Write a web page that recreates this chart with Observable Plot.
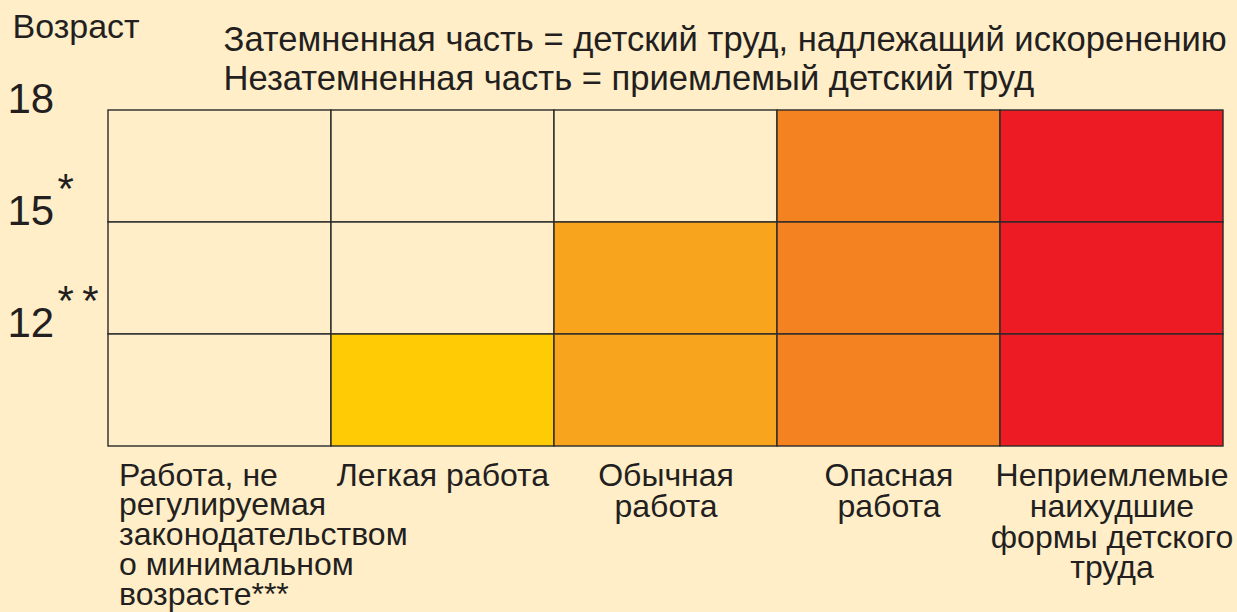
<!DOCTYPE html>
<html><head><meta charset="utf-8">
<script src="https://cdn.jsdelivr.net/npm/d3@7"></script>
<script src="https://cdn.jsdelivr.net/npm/@observablehq/plot@0.6"></script>
<style>
html,body{margin:0;padding:0;background:#FFEEC8;}
</style>
</head><body><div id="chart"></div>
<script>
// Work categories (columns)
const categories = [
  "Работа, не\nрегулируемая\nзаконодательством\nо минимальном\nвозрасте***",
  "Легкая работа",
  "Обычная\nработа",
  "Опасная\nработа",
  "Неприемлемые\nнаихудшие\nформы детского\nтруда"
];
// Age bands (rows), top to bottom
const rowTop = [18, 15, 12];
const rowBottom = [15, 12, 9];
// Age tick labels and their footnote marks
const ageTicks = [18, 15, 12];
const ageNotes = ["", "*", "**"];
// Shaded (child labour to be eliminated): per column, per row (top→bottom)
const shaded = [
  [false, false, false],
  [false, false, true],
  [false, true, true],
  [true, true, true],
  [true, true, true]
];
const columnColors = ["#FFEEC8", "#FFCB05", "#F8A51D", "#F58220", "#ED1C24"];
const unshadedColor = "#FFEEC8";
const legendText = "Затемненная часть = детский труд, надлежащий искоренению\nНезатемненная часть = приемлемый детский труд";
const yAxisTitle = "Возраст";

const cells = [];
categories.forEach((c, i) => {
  rowTop.forEach((t, j) => {
    cells.push({cat: c, y1: rowBottom[j], y2: t, fill: shaded[i][j] ? columnColors[i] : unshadedColor});
  });
});
const ticks = ageTicks.map((a, i) => ({age: a, note: ageNotes[i]}));

const font = "'Liberation Sans', Arial, Helvetica, sans-serif";
const ink = "#231F20";

const chart = Plot.plot({
  width: 1237,
  height: 612,
  marginLeft: 107,
  marginRight: 13,
  marginTop: 110,
  marginBottom: 166,
  style: {background: "#FFEEC8", fontFamily: font, color: ink, overflow: "visible"},
  x: {type: "band", domain: categories, padding: 0, axis: null},
  y: {domain: [rowBottom[rowBottom.length - 1], rowTop[0]], axis: null},
  marks: [
    Plot.barY(cells, {x: "cat", y1: "y1", y2: "y2", fill: "fill", stroke: "#2a2a2a", strokeWidth: 1.4}),
    // age tick labels
    Plot.text(ticks, {y: "age", text: d => String(d.age), frameAnchor: "left", textAnchor: "start", lineAnchor: "bottom", dx: -100, dy: 2, fontSize: 42, fill: ink}),
    Plot.text(ticks, {y: "age", text: d => d.note.split("").join("\u2009"), frameAnchor: "left", textAnchor: "start", lineAnchor: "bottom", dx: -50, dy: -20, fontSize: 42, fill: ink}),
    // category labels
    Plot.text(categories.slice(0, 1), {x: d => d, y: rowBottom[rowBottom.length - 1], text: d => d, textAnchor: "start", lineAnchor: "top", dx: -101, dy: 18, fontSize: 32, lineHeight: 0.93, fill: ink}),
    Plot.text(categories.slice(1), {x: d => d, y: rowBottom[rowBottom.length - 1], text: d => d, textAnchor: "middle", lineAnchor: "top", dy: 18, fontSize: 32, lineHeight: 0.96, fill: ink}),
    // y-axis title
    Plot.text([yAxisTitle], {frameAnchor: "top-left", textAnchor: "start", lineAnchor: "bottom", dx: -95, dy: -73, fontSize: 34, fill: ink}),
    // legend text
    Plot.text([legendText], {frameAnchor: "top-left", textAnchor: "start", lineAnchor: "bottom", dx: 116, dy: -21, fontSize: 34.6, lineHeight: 1.1, fill: ink})
  ]
});
document.getElementById("chart").appendChild(chart);
</script>
</body></html>
